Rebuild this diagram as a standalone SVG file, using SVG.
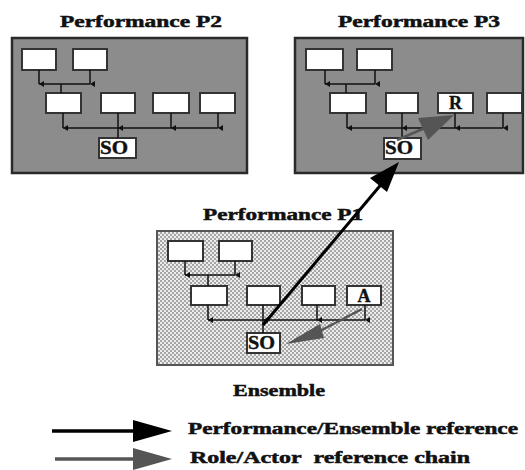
<svg xmlns="http://www.w3.org/2000/svg" width="525" height="470" viewBox="0 0 525 470">
<defs>
<style>
.title{font-family:"Liberation Serif","Times New Roman",serif;font-weight:bold;font-size:17px;fill:#111;stroke:#111;stroke-width:0.5}
.panel{fill:#8c8c8c;stroke:#2a2a2a;stroke-width:2.5}
.box{fill:#fff;stroke:#333;stroke-width:2}
.wire{stroke:#111;stroke-width:1.5;fill:none}
.tag{font-family:"Liberation Serif","Times New Roman",serif;font-weight:bold;font-size:18px;fill:#111;stroke:#111;stroke-width:0.4}
.black{stroke:#000;stroke-width:3;fill:none}
.grey{stroke:#555;stroke-width:2.5;fill:none}
</style>
<pattern id="check" width="4" height="4" patternUnits="userSpaceOnUse">
<rect width="4" height="4" fill="#ececec"/>
<rect x="0" y="0" width="2" height="2" fill="#a6a6a6"/>
<rect x="2" y="2" width="2" height="2" fill="#a6a6a6"/>
</pattern>
<marker id="sa" viewBox="0 0 6 5" refX="3" refY="5" markerWidth="6" markerHeight="5" markerUnits="userSpaceOnUse" orient="auto-start-reverse">
<path d="M0,0 L6,0 L3,5 Z" fill="#111"/>
</marker>
</defs>

<!-- Performance P2 -->
<g id="p2">
<text class="title" x="60" y="27" textLength="162" lengthAdjust="spacingAndGlyphs">Performance P2</text>
<rect class="panel" x="12" y="38" width="235" height="135"/>
<rect class="box" x="22" y="49" width="34" height="21"/>
<rect class="box" x="73" y="49" width="34" height="21"/>
<rect class="box" x="46" y="93" width="35" height="20"/>
<rect class="box" x="101" y="93" width="34" height="20"/>
<rect class="box" x="153" y="93" width="36" height="20"/>
<rect class="box" x="200" y="93" width="35" height="20"/>
<rect class="box" x="99" y="138" width="37" height="20"/>
<text class="tag" x="100" y="154" textLength="28" lengthAdjust="spacingAndGlyphs">SO</text>
</g>

<!-- Performance P3 -->
<g id="p3">
<text class="title" x="338" y="27" textLength="162" lengthAdjust="spacingAndGlyphs">Performance P3</text>
<rect class="panel" x="295" y="38" width="228" height="135"/>
<rect class="box" x="306" y="49" width="37" height="21"/>
<rect class="box" x="357" y="49" width="35" height="21"/>
<rect class="box" x="330" y="93" width="36" height="20"/>
<rect class="box" x="386" y="93" width="32" height="20"/>
<rect class="box" x="438" y="93" width="35" height="20"/>
<rect class="box" x="487" y="93" width="35" height="20"/>
<text class="tag" x="455.5" y="109" text-anchor="middle">R</text>
<rect class="box" x="384" y="138" width="37" height="21"/>
<text class="tag" x="385" y="154" textLength="28" lengthAdjust="spacingAndGlyphs">SO</text>
</g>

<!-- Performance P1 / Ensemble -->
<g id="p1">
<text class="title" x="203" y="220" textLength="160" lengthAdjust="spacingAndGlyphs">Performance P1</text>
<rect x="157" y="231" width="236" height="134" fill="url(#check)" stroke="#555" stroke-width="2"/>
<rect class="box" x="168" y="241" width="35" height="20"/>
<rect class="box" x="219" y="241" width="33" height="20"/>
<rect class="box" x="191" y="286" width="36" height="19"/>
<rect class="box" x="247" y="286" width="33" height="19"/>
<rect class="box" x="302" y="286" width="33" height="19"/>
<rect class="box" x="347" y="286" width="34" height="19"/>
<text class="tag" x="364" y="302" text-anchor="middle">A</text>
<rect class="box" x="247" y="333" width="33" height="20"/>
<text class="tag" x="248" y="349" textLength="27" lengthAdjust="spacingAndGlyphs">SO</text>
<text class="title" x="233" y="396" textLength="92" lengthAdjust="spacingAndGlyphs">Ensemble</text>
</g>

<!-- Connectors -->
<g id="connectors">
<path class="wire" d="M39,70 V84" marker-end="url(#sa)"/>
<path class="wire" d="M90,70 V84" marker-end="url(#sa)"/>
<path class="wire" d="M39,84 H90 M61,84 V93"/>
<path class="wire" d="M63,113 V128" marker-end="url(#sa)"/>
<path class="wire" d="M118,113 V128" marker-end="url(#sa)"/>
<path class="wire" d="M171,113 V128" marker-end="url(#sa)"/>
<path class="wire" d="M218,113 V128" marker-end="url(#sa)"/>
<path class="wire" d="M63,128 H218 M118,128 V138"/>
<path class="wire" d="M325,70 V84" marker-end="url(#sa)"/>
<path class="wire" d="M375,70 V84" marker-end="url(#sa)"/>
<path class="wire" d="M325,84 H375 M346,84 V93"/>
<path class="wire" d="M347,113 V128" marker-end="url(#sa)"/>
<path class="wire" d="M402,113 V128" marker-end="url(#sa)"/>
<path class="wire" d="M455,113 V128" marker-end="url(#sa)"/>
<path class="wire" d="M503,113 V128" marker-end="url(#sa)"/>
<path class="wire" d="M347,128 H503 M402,128 V138"/>
<path class="wire" d="M185,261 V275" marker-end="url(#sa)"/>
<path class="wire" d="M235,261 V275" marker-end="url(#sa)"/>
<path class="wire" d="M185,275 H235 M208,275 V286"/>
<path class="wire" d="M208,305 V320" marker-end="url(#sa)"/>
<path class="wire" d="M263,305 V320" marker-end="url(#sa)"/>
<path class="wire" d="M317,305 V320" marker-end="url(#sa)"/>
<path class="wire" d="M365,305 V320" marker-end="url(#sa)"/>
<path class="wire" d="M208,320 H365 M263,320 V333"/>
<line class="grey" x1="397" y1="140" x2="425" y2="128"/>
<polygon points="454,115 418,118 428,140" fill="#555"/>
<line class="grey" x1="362" y1="309" x2="318" y2="332"/>
<polygon points="286,344 320,324 324,338" fill="#555"/>
<line class="black" x1="263" y1="325" x2="384" y2="181"/>
<polygon points="399,162 370,178 387,192" fill="#000"/>
</g>

<!-- Legend -->
<g id="legend">
<line x1="52" y1="431" x2="136" y2="431" stroke="#000" stroke-width="3.5"/>
<polygon points="133,420 172,431 133,442" fill="#000"/>
<text class="title" x="188" y="434" textLength="330" lengthAdjust="spacingAndGlyphs">Performance/Ensemble reference</text>
<line x1="55" y1="459" x2="136" y2="459" stroke="#555" stroke-width="3.5"/>
<polygon points="133,448 172,459 133,470" fill="#555"/>
<text class="title" x="190" y="463" textLength="280" lengthAdjust="spacingAndGlyphs">Role/Actor&#160; reference chain</text>
</g>
</svg>
